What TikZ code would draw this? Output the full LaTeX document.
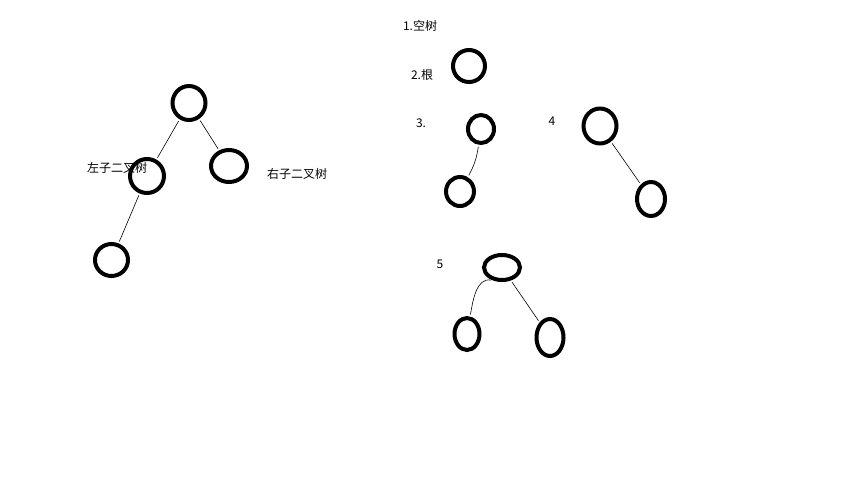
\documentclass[tikz,border=0pt]{standalone}
\usepackage{fontspec}
\setmainfont{Noto Sans CJK SC}
\usetikzlibrary{shapes.geometric}
\tikzset{
  tnode/.style={draw=black, line width=4pt, ellipse, inner sep=0pt},
  edge/.style={draw=black, line width=0.6pt, shorten <=2pt, shorten >=2pt},
  lbl/.style={inner sep=0pt, font=\fontsize{12}{14}\selectfont}
}
\begin{document}
\begin{tikzpicture}[x=1pt,y=-1pt]
\path[use as bounding box, fill=white] (0,0) rectangle (856,499);
% left tree
\node[tnode, minimum width=33pt, minimum height=34pt] (r) at (189,103) {};
\node[tnode, minimum width=34pt, minimum height=34pt] (l) at (147,176) {};
\node[tnode, minimum width=36pt, minimum height=32pt] (rr) at (229,166) {};
\node[tnode, minimum width=33pt, minimum height=32pt] (ll) at (111.5,260) {};
\draw[edge] (r) -- (l);
\draw[edge] (r) -- (rr);
\draw[edge] (l) -- (ll);
\node[lbl] (tl) at (117,168) {左子二叉树};
\node[lbl] (tr) at (297,174) {右子二叉树};
% right side
\node[lbl] (t1) at (420,26) {1.空树};
\node[lbl] (t2) at (422,75) {2.根};
\node[tnode, minimum width=32pt, minimum height=32pt] (n2) at (469,66) {};
\node[lbl] (t3) at (421,123) {3.};
\node[tnode, minimum width=26pt, minimum height=28pt] (n3a) at (481,129) {};
\node[tnode, minimum width=28pt, minimum height=29pt] (n3b) at (460,191.5) {};
\draw[edge] (n3a) to[bend left=10] (n3b);
\node[lbl] (t4) at (552,121) {4};
\node[tnode, minimum width=33pt, minimum height=35pt] (n4a) at (600,126) {};
\node[tnode, minimum width=28pt, minimum height=34pt] (n4b) at (651,199) {};
\draw[edge] (n4a) -- (n4b);
\node[lbl] (t5) at (440,264) {5};
\node[tnode, minimum width=36pt, minimum height=25pt] (n5) at (502,267.5) {};
\node[tnode, minimum width=25pt, minimum height=32pt] (n5a) at (467,334) {};
\node[tnode, minimum width=27pt, minimum height=37pt] (n5b) at (550,337.5) {};
\draw[edge] (n5.235) to[out=170, in=80] (n5a);
\draw[edge] (n5) -- (n5b);
\end{tikzpicture}
\end{document}
